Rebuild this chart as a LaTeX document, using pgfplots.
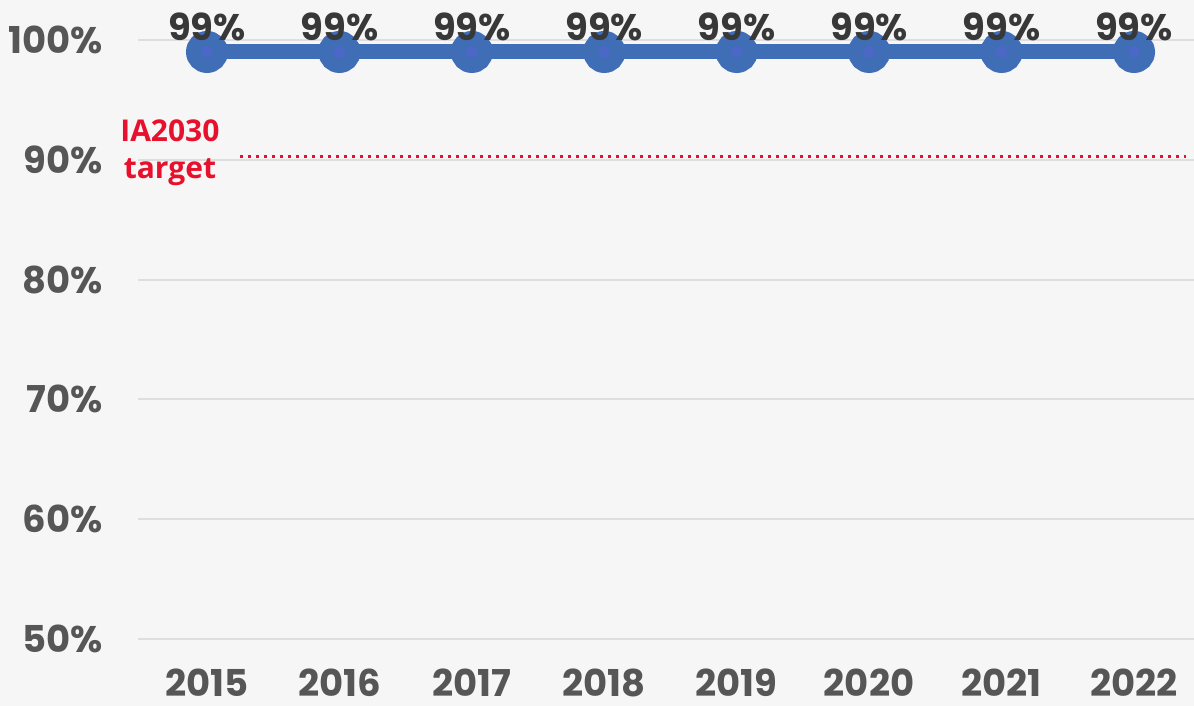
\documentclass[border=0pt]{standalone}
\usepackage{pgfplots}
\pgfplotsset{compat=1.18}
\usepackage{fontspec}
\newfontfamily\pop{Poppins}
\newfontfamily\osans{Open Sans}
\definecolor{bg}{HTML}{F6F6F6}
\definecolor{grid}{HTML}{DEDEDE}
\definecolor{tick}{HTML}{565656}
\definecolor{lab}{HTML}{383838}
\definecolor{lineblue}{HTML}{3F6DB6}
\definecolor{markblue}{HTML}{4C68C6}
\definecolor{tred}{HTML}{E8112D}
\begin{document}
\begin{tikzpicture}
\fill[bg] (0,0) rectangle (1194pt,706pt);
\useasboundingbox (0,0) rectangle (1194pt,706pt);
\begin{axis}[
  at={(138pt,67pt)}, anchor=south west,
  scale only axis, width=1056pt, height=599pt,
  xmin=2014.479, xmax=2022.453,
  ymin=50, ymax=100,
  axis line style={draw=none},
  tick style={draw=none},
  xtick={2015,...,2022},
  ytick={50,60,...,100},
  xmajorgrids=false, ymajorgrids=true,
  y grid style={grid, line width=2pt},
  clip=false,
  /pgf/number format/1000 sep={},
  /pgf/number format/assume math mode=true,
  xticklabel style={font=\pop\bfseries\fontsize{37}{42}\selectfont, text=tick, anchor=base, inner sep=0pt, yshift=-58pt},
  yticklabel={\pgfmathprintnumber{\tick}\%},
  yticklabel style={font=\pop\bfseries\fontsize{37}{42}\selectfont, text=tick, anchor=east, inner sep=0pt, xshift=-35pt},
]
\addplot[tred, line width=3pt, dash pattern=on 3pt off 5pt] coordinates {(2015.249,90.3) (2022.393,90.3)};
\addplot[lineblue, line width=15pt, mark=*, mark size=13.5pt,
  mark options={fill=markblue, draw=none},
  nodes near coords={\pgfmathprintnumber{\pgfplotspointmeta}\%},
  point meta=y,
  every node near coord/.append style={font=\pop\bfseries\fontsize{37}{42}\selectfont, text=lab, anchor=center, inner sep=0pt, yshift=25pt}]
  coordinates {(2015,99) (2016,99) (2017,99) (2018,99) (2019,99) (2020,99) (2021,99) (2022,99)};
\node[text=tred, font=\osans\bfseries\fontsize{30}{37}\selectfont, align=center] at (axis cs:2014.72,90.57) {IA2030\\target};
\end{axis}
\end{tikzpicture}
\end{document}
